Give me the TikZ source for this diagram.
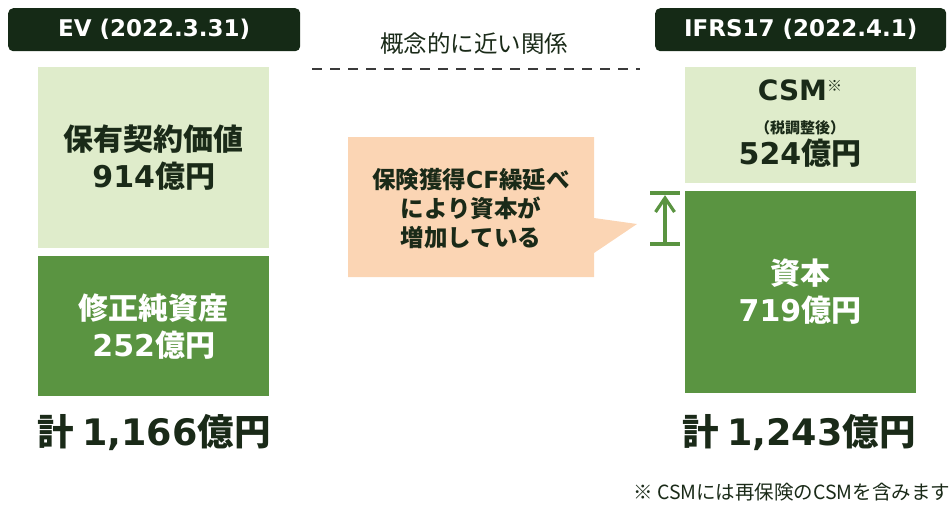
\documentclass[tikz,border=0pt]{standalone}
\usepackage{fontspec}
\setmainfont{Noto Sans CJK JP}
\newfontfamily\lat{DejaVu Sans}
\usetikzlibrary{arrows.meta}
\definecolor{hdrgreen}{HTML}{152A16}
\definecolor{lightgreen}{HTML}{DFECCB}
\definecolor{darkgreen}{HTML}{5A9441}
\definecolor{peach}{HTML}{FBD5B4}
\definecolor{darktext}{HTML}{1A2A18}
\definecolor{dashgray}{HTML}{3A3A3A}
\tikzset{
  hdr/.style={fill=hdrgreen, rounded corners=5pt, text=white, font=\lat\bfseries\fontsize{23}{26}\selectfont, minimum width=292pt, minimum height=43pt, inner sep=0pt, anchor=north west},
  lbox/.style={fill=lightgreen, minimum width=231pt, inner sep=0pt, anchor=north west, text=darktext},
  dbox/.style={fill=darkgreen, minimum width=231pt, inner sep=0pt, anchor=north west, text=white},
  big/.style={font=\bfseries\fontsize{30}{37}\selectfont, align=center},
  total/.style={font=\bfseries\fontsize{36.5}{40}\selectfont, text=darktext},
  calltext/.style={font=\bfseries\fontsize{23.5}{29}\selectfont, align=center, text=darktext},
}
\begin{document}
\begin{tikzpicture}[x=1pt,y=-1pt]
\useasboundingbox (0,0) rectangle (952,507);
% headers
\node[hdr] (evh) at (8,8) {EV (2022.3.31)};
\node[hdr, minimum width=291pt] (ifh) at (655,8) {IFRS17 (2022.4.1)};
% dashed relation
\coordinate (dl) at (312,69);
\coordinate (dr) at (640,69);
\draw[dashgray, line width=2pt, dash pattern=on 10pt off 8pt] (dl) -- (dr);
\node[text=darktext, font=\fontsize{23.5}{27}\selectfont] (rel) at (474,44) {概念的に近い関係};
% left boxes
\node[lbox, minimum height=181pt, big] (pv) at (38,67) {保有契約価値\\{\lat 914}億円};
\node[dbox, minimum height=140pt, big] (na) at (38,256) {修正純資産\\{\lat 252}億円};
% right boxes
\node[lbox, minimum height=116pt] (csmbox) at (685,67) {};
\node[text=darktext, font=\bfseries\fontsize{28}{34}\selectfont] (csm) at (800,90) {{\lat CSM}\raisebox{9pt}{\fontsize{15}{15}\selectfont ※}};
\node[text=darktext, font=\bfseries\fontsize{15}{18}\selectfont] (tax) at (800,128) {（税調整後）};
\node[text=darktext, font=\bfseries\fontsize{30}{34}\selectfont] (csmv) at (800,153) {{\lat 524}億円};
\node[dbox, minimum height=202pt] (cap) at (685,191) {};
\node[text=white, big] (capt) at (800,292) {資本\\{\lat 719}億円};
% callout
\fill[peach] (348,137) -- (594,137) -- (594,218) -- (637,224) -- (594,253) -- (594,277) -- (348,277) -- cycle;
\node[calltext] (call) at (471,209) {保険獲得{\lat CF}繰延べ\\により資本が\\増加している};
% increase marker
\coordinate (bt) at (665,244);
\coordinate (tp) at (665,198);
\draw[darkgreen, line width=3.2pt] (650,193) -- (680,193);
\draw[darkgreen, line width=3.2pt] (650,244) -- (680,244);
\draw[darkgreen, line width=3.2pt] (bt) -- (tp);
\draw[darkgreen, line width=3.2pt, line join=miter] (655.5,212) -- (tp) -- (674.5,212);
% totals
\node[total] (t1) at (154,433) {計 {\lat 1,166}億円};
\node[total] (t2) at (799,433) {計 {\lat 1,243}億円};
% footnote
\node[anchor=west, text=darktext, font=\fontsize{19.5}{23}\selectfont, inner sep=0pt] (fn) at (633,492) {※ CSMには再保険のCSMを含みます};
\end{tikzpicture}
\end{document}
